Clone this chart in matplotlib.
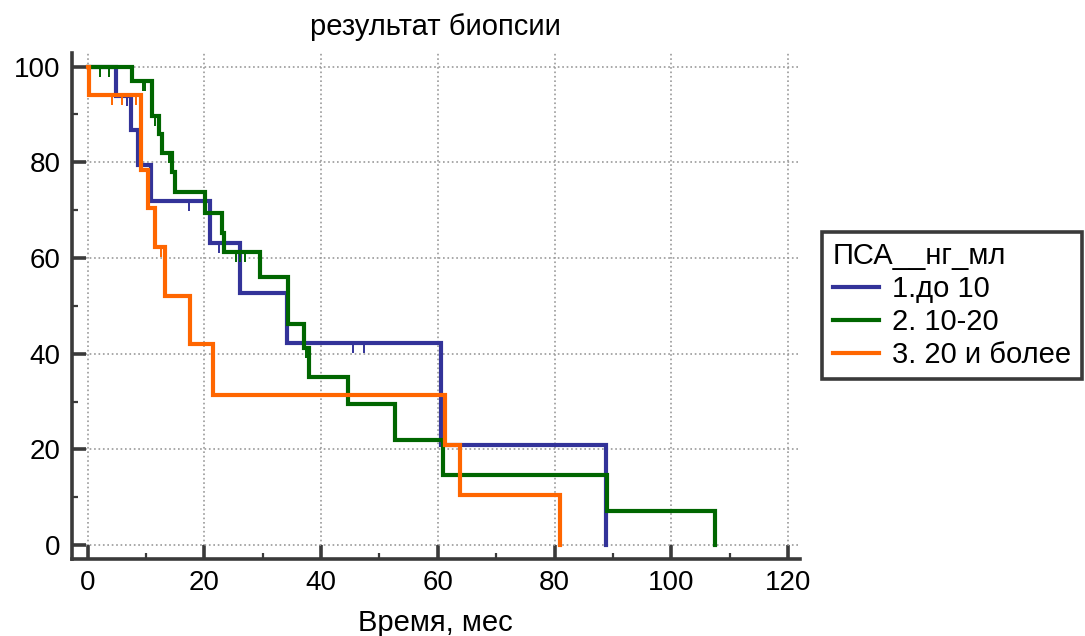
"""Kaplan-Meier curves by PSA group (biopsy result)."""
import matplotlib
matplotlib.use("Agg")
import matplotlib.pyplot as plt
import numpy as np
from matplotlib.path import Path
from matplotlib.ticker import MultipleLocator

plt.rcParams["font.family"] = ["Liberation Sans", "DejaVu Sans"]

# ── data ─────────────────────────────────────────────────────────────────────
labels = ["1.до 10", "2. 10-20", "3. 20 и более"]
colors = ["#333399", "#006600", "#ff6600"]

blue_t = [0, 4.8, 7.4, 8.6, 10.8, 20.9, 26.1, 34.2, 60.6, 88.8]
blue_s = [100, 93.8, 86.8, 79.5, 72.0, 63.2, 52.7, 42.2, 21.0, 0]
blue_cens = [6.8, 17.4, 22.5, 45.4, 47.4]

green_t = [0, 7.6, 11.0, 12.3, 12.8, 14.4, 15.0, 20.1, 23.1, 23.3, 29.5,
           34.3, 37.0, 37.9, 44.6, 52.7, 60.9, 89.0, 107.5]
green_s = [100, 96.9, 89.6, 85.9, 81.9, 77.9, 73.8, 69.5, 65.3, 61.2, 56.1,
           46.2, 41.2, 35.2, 29.4, 21.9, 14.6, 7.2, 0]
green_cens = [2.2, 3.6, 9.5, 9.8, 11.5, 13.9, 25.5, 26.1, 26.9, 37.5]

orange_t = [0, 0.2, 9.1, 10.3, 11.5, 13.2, 17.5, 21.5, 61.3, 63.8, 80.9]
orange_s = [100, 94.1, 78.4, 70.4, 62.3, 52.1, 42.0, 31.4, 21.0, 10.5, 0]
orange_cens = [4.2, 5.9, 8.3, 12.5]

groups = [
    (blue_t, blue_s, blue_cens),
    (green_t, green_s, green_cens),
    (orange_t, orange_s, orange_cens),
]

AXIS_COLOR = "#3a3a3a"
FS = 21
TICK_FS = 20

# censor tick hanging below the curve
CENSOR = Path([(0, 0), (0, -1)], [Path.MOVETO, Path.LINETO])


def _surv_at(t, s, x):
    idx = np.searchsorted(t, x, side="right") - 1
    return np.asarray(s)[idx]


fig = plt.figure(figsize=(10.85, 6.36), dpi=100)
ax = fig.add_axes([0.066, 0.121, 0.671, 0.796])

for (t, s, cens), color, label in zip(groups, colors, labels):
    ax.step(t, s, where="post", color=color, linewidth=3.0, label=label,
            solid_joinstyle="miter")
    ax.plot(cens, _surv_at(t, s, cens), linestyle="none", marker=CENSOR,
            markersize=15, markeredgewidth=1.4, color=color)

ax.set_xlim(-2.74, 122)
ax.set_ylim(-2.93, 102.9)
ax.xaxis.set_major_locator(MultipleLocator(20))
ax.xaxis.set_minor_locator(MultipleLocator(10))
ax.yaxis.set_major_locator(MultipleLocator(20))
ax.yaxis.set_minor_locator(MultipleLocator(10))

ax.tick_params(which="major", direction="in", length=10, width=2.6,
               color=AXIS_COLOR, labelsize=TICK_FS, pad=8)
ax.tick_params(which="minor", direction="in", length=4, width=1.6,
               color=AXIS_COLOR)

for side in ("top", "right"):
    ax.spines[side].set_visible(False)
for side in ("left", "bottom"):
    ax.spines[side].set_color(AXIS_COLOR)
    ax.spines[side].set_linewidth(2.6)

ax.grid(True, which="major", linestyle=":", color="#9a9a9a", linewidth=1.2)
ax.set_axisbelow(True)

ax.set_title("результат биопсии", fontsize=FS, pad=13)
ax.set_xlabel("Время, мес", fontsize=FS, labelpad=9)

leg = ax.legend(title="ПСА__нг_мл", loc="upper left",
                bbox_to_anchor=(0.758, 0.635), bbox_transform=fig.transFigure,
                fontsize=FS, title_fontsize=FS, alignment="left",
                fancybox=False, framealpha=1, edgecolor=AXIS_COLOR,
                handlelength=1.6, handletextpad=0.45, borderpad=0.35,
                labelspacing=0.17, borderaxespad=0)
leg.get_frame().set_linewidth(2.6)

fig.savefig("out.png", dpi=100)
